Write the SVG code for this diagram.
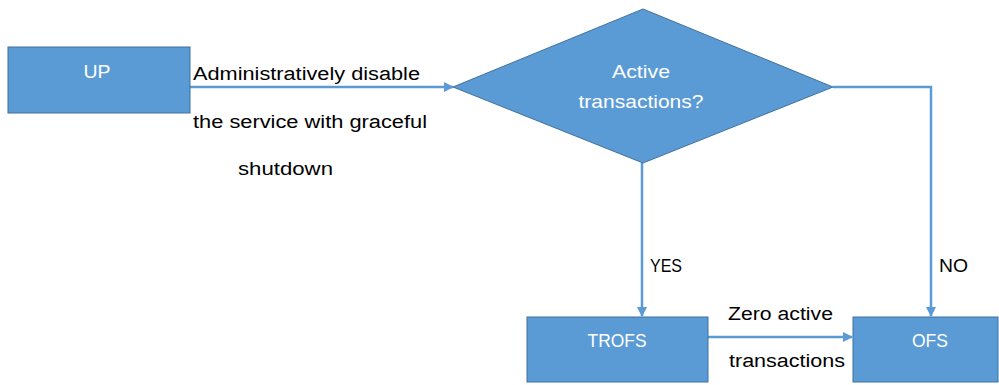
<svg xmlns="http://www.w3.org/2000/svg" width="999" height="385" viewBox="0 0 999 385">
<style>
.shape{fill:#5B9BD5;stroke:#41719C;stroke-width:1}
.node{font-family:"Liberation Sans",Arial,sans-serif;font-size:19px;fill:#ffffff;text-anchor:middle}
.lbl{font-family:"Liberation Sans",Arial,sans-serif;font-size:18px;fill:#000000}
.conn{fill:none;stroke:#5B9BD5;stroke-width:2.5}
</style>
<defs>
<marker id="arr" markerWidth="10" markerHeight="10" refX="9" refY="5" orient="auto" markerUnits="userSpaceOnUse"><path d="M0,0 L10,5 L0,10 Z" fill="#5B9BD5"/></marker>
</defs>
<rect width="999" height="385" fill="#ffffff"/>
<g id="connectors">
<path class="conn" d="M190,87 L453,87" marker-end="url(#arr)"/>
<path class="conn" d="M642,163 L642,316" marker-end="url(#arr)"/>
<path class="conn" d="M833,87 L931,87 L931,316" marker-end="url(#arr)"/>
<path class="conn" d="M708,337 L852,337" marker-end="url(#arr)"/>
<text class="lbl" x="193" y="80" textLength="227" lengthAdjust="spacingAndGlyphs">Administratively disable</text>
<text class="lbl" x="193" y="128" textLength="234" lengthAdjust="spacingAndGlyphs">the service with graceful</text>
<text class="lbl" x="238" y="175" textLength="95" lengthAdjust="spacingAndGlyphs">shutdown</text>
<text class="lbl" x="650" y="272" textLength="32" lengthAdjust="spacingAndGlyphs">YES</text>
<text class="lbl" x="939" y="272" textLength="29" lengthAdjust="spacingAndGlyphs">NO</text>
<text class="lbl" x="728" y="320" textLength="105" lengthAdjust="spacingAndGlyphs">Zero active</text>
<text class="lbl" x="729" y="367" textLength="116" lengthAdjust="spacingAndGlyphs">transactions</text>
</g>
<g id="up">
<rect class="shape" x="8" y="47" width="182" height="66"/>
<text class="node" x="97" y="78" textLength="27" lengthAdjust="spacingAndGlyphs">UP</text>
</g>
<g id="decision">
<polygon class="shape" points="643,9 833,87 643,163 453,87"/>
<text class="node" x="641" y="78" textLength="58" lengthAdjust="spacingAndGlyphs">Active</text>
<text class="node" x="641" y="108" textLength="125" lengthAdjust="spacingAndGlyphs">transactions?</text>
</g>
<g id="trofs">
<rect class="shape" x="527" y="317" width="181" height="65"/>
<text class="node" x="617" y="347" textLength="59" lengthAdjust="spacingAndGlyphs">TROFS</text>
</g>
<g id="ofs">
<rect class="shape" x="853" y="317" width="145" height="65"/>
<text class="node" x="930" y="347" textLength="36" lengthAdjust="spacingAndGlyphs">OFS</text>
</g>
</svg>
